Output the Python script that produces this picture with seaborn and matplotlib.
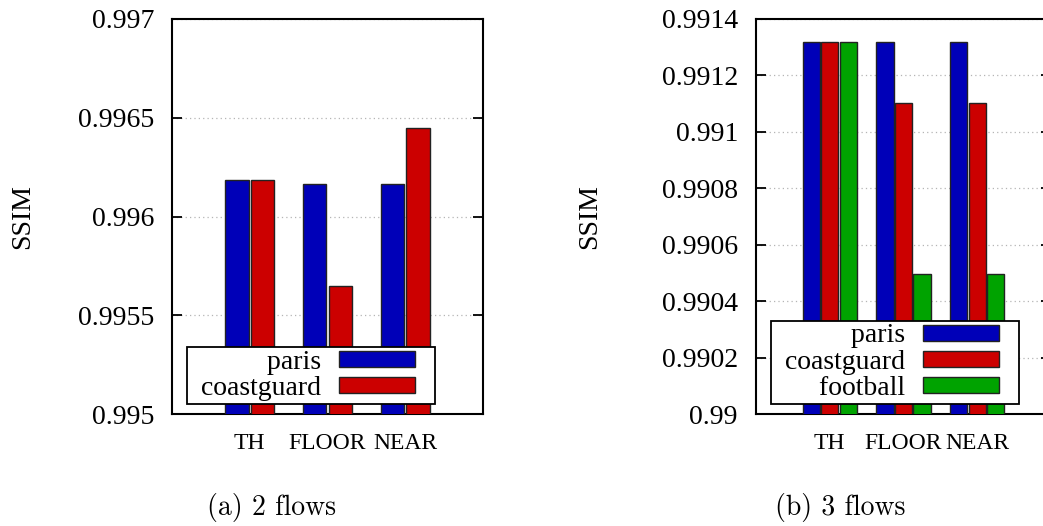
import matplotlib
matplotlib.use("Agg")
import matplotlib.pyplot as plt
from matplotlib.patches import Rectangle
from matplotlib.legend_handler import HandlerPatch
import seaborn as sns
import pandas as pd

# ---- data ----
categories = ["TH", "FLOOR", "NEAR"]

flows2_series = ["paris", "coastguard"]
flows2_paris = [0.996183, 0.996163, 0.996163]
flows2_coastguard = [0.996183, 0.995648, 0.996446]

flows3_series = ["paris", "coastguard", "football"]
flows3_paris = [0.991317, 0.991317, 0.991317]
flows3_coastguard = [0.991317, 0.991103, 0.991103]
flows3_football = [0.991317, 0.990495, 0.990495]

left_ticks = [0.995, 0.9955, 0.996, 0.9965, 0.997]
left_ticklabels = ["0.995", "0.9955", "0.996", "0.9965", "0.997"]
right_ticks = [0.99, 0.9902, 0.9904, 0.9906, 0.9908, 0.991, 0.9912, 0.9914]
right_ticklabels = ["0.99", "0.9902", "0.9904", "0.9906", "0.9908", "0.991", "0.9912", "0.9914"]

captions = ["(a) 2 flows", "(b) 3 flows"]

colors = {"paris": "#0000b8", "coastguard": "#cc0000", "football": "#00a300"}

df2 = pd.DataFrame({
    "category": categories * 2,
    "series": [s for s in flows2_series for _ in categories],
    "SSIM": flows2_paris + flows2_coastguard,
})
df3 = pd.DataFrame({
    "category": categories * 3,
    "series": [s for s in flows3_series for _ in categories],
    "SSIM": flows3_paris + flows3_coastguard + flows3_football,
})

sns.set_theme(style="white")
plt.rcParams["font.family"] = ["Liberation Serif", "DejaVu Serif"]
plt.rcParams["text.color"] = "black"
plt.rcParams["axes.labelcolor"] = "black"
plt.rcParams["xtick.color"] = "black"
plt.rcParams["ytick.color"] = "black"

W, H = 1043, 526
fig = plt.figure(figsize=(W / 100, H / 100), dpi=100)

def px_axes(x0, x1, ytop, ybot):
    return [x0 / W, 1 - ybot / H, (x1 - x0) / W, (ybot - ytop) / H]

ax1 = fig.add_axes(px_axes(172, 483, 19, 414))
ax2 = fig.add_axes(px_axes(756, 1051, 19, 414))

def short_rect(legend, orig_handle, xdescent, ydescent, width, height, fontsize):
    # swatch occupies the left part of the handle box, leaving right padding
    return Rectangle((-xdescent, -ydescent), width * 0.82, height)

def style_axis(ax, df, order, width, gap, ylim, ticks, ticklabels, leg_anchor, label_x):
    sns.barplot(data=df, x="category", y="SSIM", hue="series", hue_order=order,
                order=categories, palette=colors, width=width, gap=gap,
                edgecolor="#222222", linewidth=1.0, saturation=1.0, ax=ax,
                errorbar=None, zorder=3)
    ax.set_xlim(-1, 3)
    ax.set_ylim(*ylim)
    ax.set_yticks(ticks)
    ax.set_yticklabels(ticklabels)
    ax.set_xlabel("")
    ax.set_ylabel("SSIM", fontsize=20, color="black")
    ax.yaxis.set_label_coords(label_x, 0.5)
    ax.tick_params(axis="y", direction="in", length=7, width=1.3, labelsize=20,
                   pad=13, left=True, right=True, colors="black")
    ax.tick_params(axis="x", length=0, labelsize=17, pad=14, colors="black")
    for sp in ax.spines.values():
        sp.set_visible(True)
        sp.set_color("black")
        sp.set_linewidth(1.5)
    ax.grid(axis="y", color="#b5b5b5", linestyle=(0, (1, 2.5)), linewidth=0.9, zorder=0)
    ax.set_axisbelow(True)

    old = ax.get_legend()
    handles = list(old.legend_handles)
    labels = [t.get_text() for t in old.get_texts()]
    old.remove()
    labels = ["\u2009\u2009" + l for l in labels]
    hmap = {h: HandlerPatch(patch_func=short_rect) for h in handles}
    leg = ax.legend(handles, labels, loc="lower right", bbox_to_anchor=leg_anchor,
                    markerfirst=False, frameon=True, fancybox=False,
                    framealpha=1, edgecolor="black", fontsize=20,
                    handlelength=3.35, handleheight=0.5, handletextpad=0.65,
                    labelspacing=0.05, borderpad=0.1, borderaxespad=0,
                    handler_map=hmap)
    leg.get_frame().set_linewidth(1.3)
    leg.set_zorder(10)
    for t in leg.get_texts():
        t.set_color("black")

style_axis(ax1, df2, flows2_series, 0.666, 0.09, (0.995, 0.997),
           left_ticks, left_ticklabels, (0.8457, 0.0253), -0.44)
style_axis(ax2, df3, flows3_series, 0.753, 0.08, (0.99, 0.9914),
           right_ticks, right_ticklabels, (0.8915, 0.0253), -0.52)

fig.text(271.7 / W, 1 - 508 / H, captions[0], ha="center", va="center",
         fontfamily="cmr10", fontsize=20, color="black")
fig.text(840 / W, 1 - 508 / H, captions[1], ha="center", va="center",
         fontfamily="cmr10", fontsize=20, color="black")

fig.savefig("out.png", dpi=100)
